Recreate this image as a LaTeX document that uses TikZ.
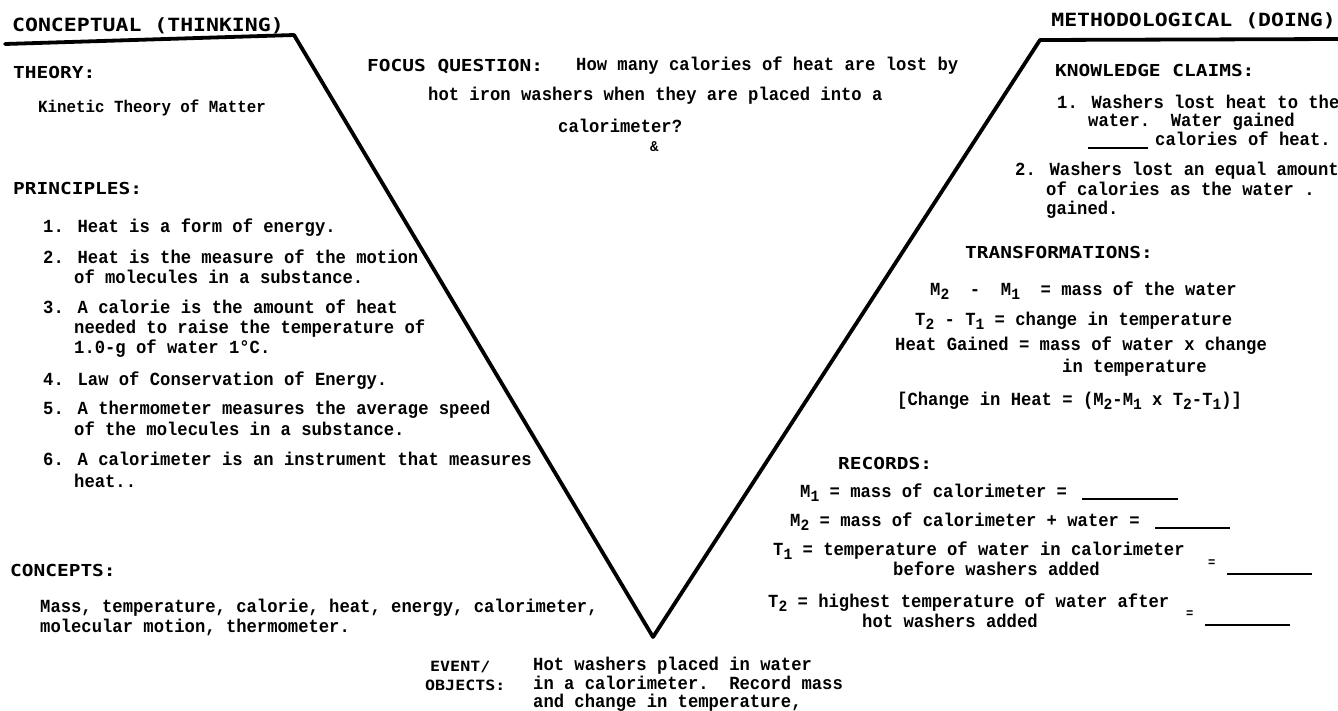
\documentclass[tikz,border=0pt]{standalone}
\usepackage{fontspec}
\usepackage{graphicx}
\newfontfamily\bodyfam[FakeStretch=0.93]{Liberation Mono}
\newfontfamily\headfam[FakeStretch=1.18]{DejaVu Sans Mono}
\newcommand\lowd[1]{\raisebox{-4.5pt}{\scalebox{0.85}{#1}}}
\tikzset{
  bt/.style={font=\bodyfam\bfseries\fontsize{18.5}{20}\selectfont, inner sep=0pt, anchor=base west},
  hd/.style={font=\headfam\bfseries\fontsize{16.5}{18}\selectfont, inner sep=0pt, anchor=base west},
  bighd/.style={font=\headfam\bfseries\fontsize{18.2}{20}\selectfont, inner sep=0pt, anchor=base west},
  smhd/.style={font=\headfam\bfseries\fontsize{14.1}{16}\selectfont, inner sep=0pt, anchor=base west},
  vline/.style={line width=3.8pt, line join=round, line cap=round},
  blank/.style={line width=1.6pt},
}
\begin{document}
\begin{tikzpicture}[x=1pt,y=-1pt]
\useasboundingbox[fill=white] (0,0) rectangle (1338,710);
% the V
\coordinate (tl) at (5,44);
\coordinate (tlc) at (294,35);
\coordinate (vx) at (653,637);
\coordinate (trc) at (1040,40);
\coordinate (tr) at (1338,39);
\draw[vline] (tl) -- (tlc) -- (vx) -- (trc) -- (tr);
% left side
\node[bighd] (conc) at (12,31) {CONCEPTUAL (THINKING)};
\node[hd] (theory) at (13,78) {THEORY:};
\node[bt, font=\bodyfam\bfseries\fontsize{17}{19}\selectfont] (kin) at (38,112) {Kinetic Theory of Matter};
\node[hd] (princ) at (13,194) {PRINCIPLES:};
\node[bt] (p1) at (43,232) {1. Heat is a form of energy.};
\node[bt] (p2a) at (43,263) {2. Heat is the measure of the motion};
\node[bt] (p2b) at (74,283) {of molecules in a substance.};
\node[bt] (p3a) at (43,313) {3. A calorie is the amount of heat};
\node[bt] (p3b) at (74,333) {needed to raise the temperature of};
\node[bt] (p3c) at (74,353) {1.0-g of water 1°C.};
\node[bt] (p4) at (43,385) {4. Law of Conservation of Energy.};
\node[bt] (p5a) at (43,414) {5. A thermometer measures the average speed};
\node[bt] (p5b) at (74,435) {of the molecules in a substance.};
\node[bt] (p6a) at (43,465) {6. A calorimeter is an instrument that measures};
\node[bt] (p6b) at (74,487) {heat..};
\node[hd] (concepts) at (10,576) {CONCEPTS:};
\node[bt] (c1) at (40,612) {Mass, temperature, calorie, heat, energy, calorimeter,};
\node[bt] (c2) at (40,632) {molecular motion, thermometer.};
% centre
\node[hd] (focus) at (367,71) {FOCUS QUESTION:};
\node[bt] (q1) at (576,70) {How many calories of heat are lost by};
\node[bt] (q2) at (428,100) {hot iron washers when they are placed into a};
\node[bt] (q3) at (558,132) {calorimeter?};
\node[bt, font=\bodyfam\bfseries\fontsize{15}{15}\selectfont] (amp) at (650,151) {\&};
\node[smhd] (event) at (430,671) {EVENT/};
\node[smhd] (objects) at (425,690) {OBJECTS:};
\node[bt] (e1) at (533,670) {Hot washers placed in water};
\node[bt] (e2) at (533,689) {in a calorimeter.~~Record mass};
\node[bt] (e3) at (533,707) {and change in temperature,};
% right side
\node[bighd, anchor=base east] (meth) at (1336,26) {METHODOLOGICAL (DOING)};
\node[hd] (kc) at (1055,76) {KNOWLEDGE CLAIMS:};
\node[bt] (k1a) at (1057,108) {1. Washers lost heat to the};
\node[bt] (k1b) at (1088,126) {water.~~Water gained};
\coordinate (b0a) at (1088,148);
\coordinate (b0b) at (1148,148);
\draw[blank] (b0a) -- (b0b);
\node[bt] (k1c) at (1155,145) {calories of heat.};
\node[bt] (k2a) at (1015,175) {2. Washers lost an equal amount};
\node[bt] (k2b) at (1046,195) {of calories as the water .};
\node[bt] (k2c) at (1046,214) {gained.};
\node[hd] (trans) at (965,258) {TRANSFORMATIONS:};
\node[bt] (t1) at (930,295) {M\lowd{2}~~-~~M\lowd{1}~~= mass of the water};
\node[bt] (t2) at (915,325) {T\lowd{2} - T\lowd{1} = change in temperature};
\node[bt] (t3) at (895,350) {Heat Gained = mass of water x change};
\node[bt] (t4) at (1062,372) {in temperature};
\node[bt] (t5) at (897,405) {[Change in Heat = (M\lowd{2}-M\lowd{1} x T\lowd{2}-T\lowd{1})]};
\node[hd] (rec) at (838,469) {RECORDS:};
\node[bt] (r1) at (800,497) {M\lowd{1} = mass of calorimeter =};
\coordinate (b1a) at (1082,499);
\coordinate (b1b) at (1178,499);
\draw[blank] (b1a) -- (b1b);
\node[bt] (r2) at (790,526) {M\lowd{2} = mass of calorimeter + water =};
\coordinate (b2a) at (1155,528);
\coordinate (b2b) at (1230,528);
\draw[blank] (b2a) -- (b2b);
\node[bt] (r3a) at (773,555) {T\lowd{1} = temperature of water in calorimeter};
\node[bt] (r3b) at (893,575) {before washers added};
\node[bt, font=\bodyfam\bfseries\fontsize{13}{13}\selectfont] (r3eq) at (1208,566) {=};
\coordinate (b3a) at (1227,574);
\coordinate (b3b) at (1312,574);
\draw[blank] (b3a) -- (b3b);
\node[bt] (r4a) at (768,607) {T\lowd{2} = highest temperature of water after};
\node[bt] (r4b) at (862,627) {hot washers added};
\node[bt, font=\bodyfam\bfseries\fontsize{13}{13}\selectfont] (r4eq) at (1186,617) {=};
\coordinate (b4a) at (1205,625);
\coordinate (b4b) at (1290,625);
\draw[blank] (b4a) -- (b4b);
\end{tikzpicture}
\end{document}
